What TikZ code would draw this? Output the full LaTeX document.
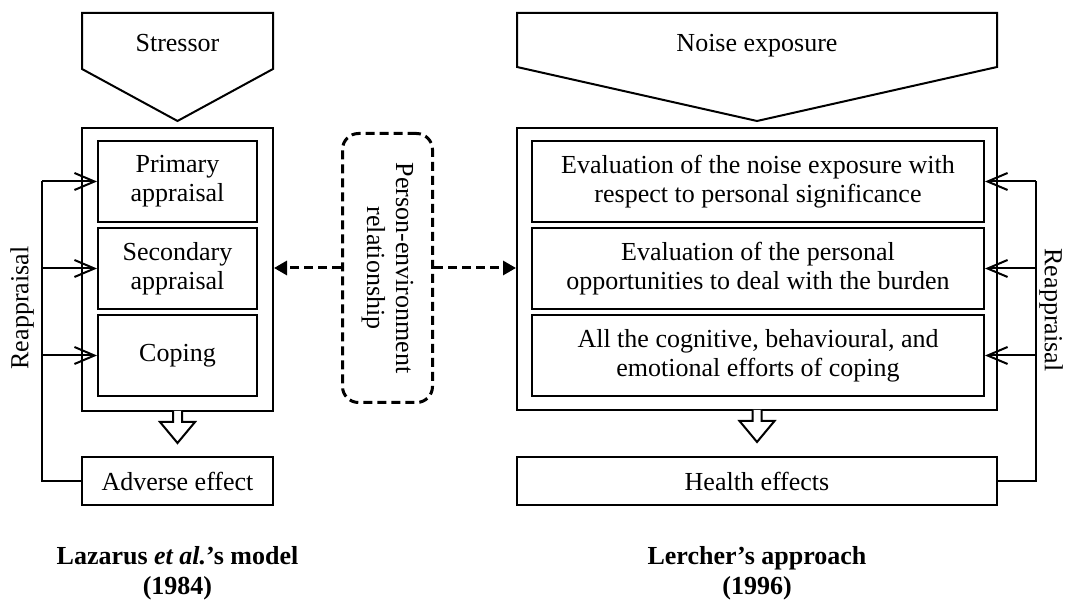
\documentclass[tikz,border=0pt]{standalone}
\usepackage{fontspec}
\setmainfont{Liberation Serif}
\usetikzlibrary{arrows.meta,positioning}

\tikzset{
  box/.style={draw, line width=1pt, align=center, inner sep=0pt},
  stagebox/.style={box, minimum height=40.5pt},
  pebox/.style={draw, line width=1.5pt, dash pattern=on 4.5pt off 2.5pt, rounded corners=8pt, minimum width=45pt, minimum height=134.5pt},
  pelink/.style={line width=1.5pt, dash pattern=on 4.5pt off 2.5pt, -{Triangle[length=6.5pt,width=7pt]}},
  reapp/.style={line width=1pt, -{Straight Barb[length=10pt,width=8.5pt,line width=1pt]}},
  hollow/.style={draw, fill=white, line width=1pt, line join=miter},
  title/.style={font=\bfseries, align=center}
}

\begin{document}
\fontsize{13}{14.5}\selectfont
\begin{tikzpicture}[x=0.5pt, y=-0.5pt]
  \useasboundingbox (0,0) rectangle (1066,603);

  % Stressor / noise exposure
  \draw[line width=1pt, line join=miter] (82,13) -- (273,13) -- (273,69) -- (177.5,121) -- (82,69) -- cycle;
  \node[anchor=base] (stressor) at (177.5,52) {Stressor};
  \draw[line width=1pt, line join=miter] (517,13) -- (997,13) -- (997,67) -- (757,121) -- (517,67) -- cycle;
  \node[anchor=base] (noise) at (757,52) {Noise exposure};

  % Lazarus et al. model
  \node[box, minimum width=95.5pt, minimum height=141.5pt] (lazouter) at (177.5,269.5) {};
  \node[stagebox, minimum width=79.5pt] (primary) at (177.5,181.5) {Primary\\appraisal};
  \node[stagebox, minimum width=79.5pt] (secondary) at (177.5,268.5) {Secondary\\appraisal};
  \node[stagebox, minimum width=79.5pt] (coping) at (177.5,355.5) {Coping};
  \node[box, minimum width=95.5pt, minimum height=24pt] (adverse) at (177.5,481) {Adverse effect};

  % Lercher approach
  \node[box, minimum width=240pt, minimum height=141pt] (lerouter) at (757,269) {};
  \node[stagebox, minimum width=226pt] (evalsig) at (758,181.5) {Evaluation of the noise exposure with\\respect to personal significance};
  \node[stagebox, minimum width=226pt] (evalopp) at (758,268.5) {Evaluation of the personal\\opportunities to deal with the burden};
  \node[stagebox, minimum width=226pt] (effort) at (758,355.5) {All the cognitive, behavioural, and\\emotional efforts of coping};
  \node[box, minimum width=240pt, minimum height=24pt] (health) at (757,481) {Health effects};

  % Person-environment relationship
  \node[pebox] (pe) at (387.5,268) {};
  \node[rotate=-90, align=center] (petext) at (pe) {Person-environment\\relationship};
  \draw[pelink] (pe.west) -- (pe.west -| lazouter.east);
  \draw[pelink] (pe.east) -- (pe.east -| lerouter.west);

  % Hollow arrows
  \draw[hollow] (lazouter.south) ++(-4.5,-1.2) -- ++(0,11.2) -- ++(-13,0) -- ++(17.5,21) -- ++(17.5,-21) -- ++(-13,0) -- ++(0,-11.2);
  \draw[hollow] (lerouter.south) ++(-4.5,-1.2) -- ++(0,11.2) -- ++(-13,0) -- ++(17.5,21) -- ++(17.5,-21) -- ++(-13,0) -- ++(0,-11.2);

  % Reappraisal loops
  \coordinate (ltop) at (42,181.5);
  \coordinate (rtop) at (1036,181.5);
  \draw[line width=1pt] (adverse.west) -| (ltop);
  \draw[reapp] (ltop) -- (primary.west);
  \draw[reapp] (secondary.west -| ltop) -- (secondary.west);
  \draw[reapp] (coping.west -| ltop) -- (coping.west);
  \draw[line width=1pt] (health.east) -| (rtop);
  \draw[reapp] (rtop) -- (evalsig.east);
  \draw[reapp] (evalopp.east -| rtop) -- (evalopp.east);
  \draw[reapp] (effort.east -| rtop) -- (effort.east);
  \node[rotate=90] (lreapp) at (22,308) {Reappraisal};
  \node[rotate=-90] (rreapp) at (1051,310) {Reappraisal};

  % Titles
  \node[title, font=\bfseries\fontsize{13}{15}\selectfont] (laztitle) at (177.5,573) {Lazarus \textit{et al.}’s model\\(1984)};
  \node[title, font=\bfseries\fontsize{13}{15}\selectfont] (lertitle) at (757,573) {Lercher’s approach\\(1996)};
\end{tikzpicture}
\end{document}
